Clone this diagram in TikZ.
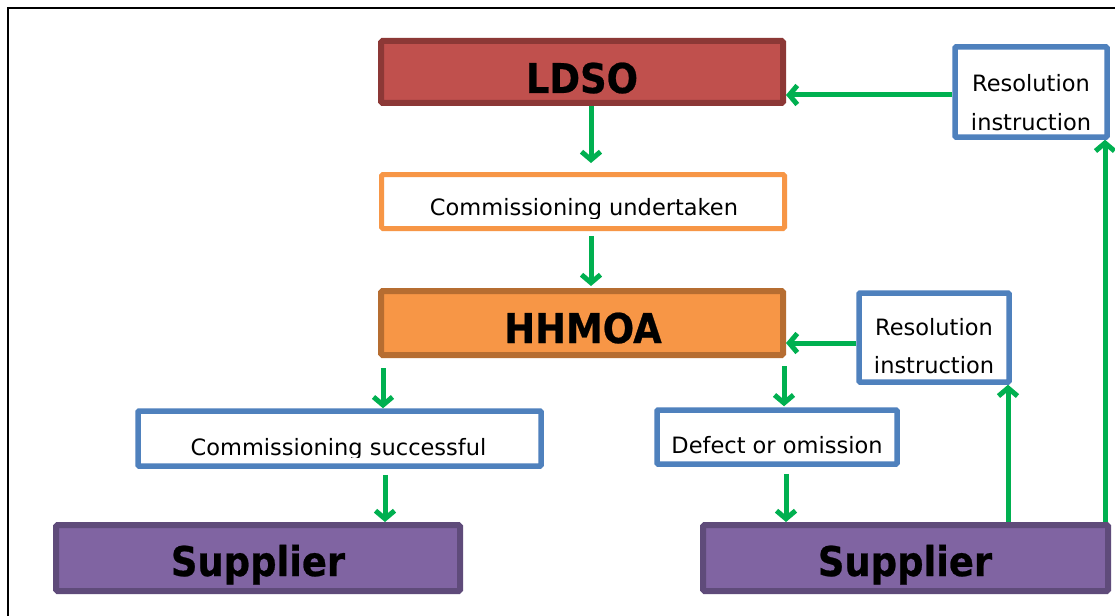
\documentclass[tikz,border=0pt]{standalone}
\usepackage{fontspec}
\setmainfont{DejaVu Sans}
\newfontfamily\heavyfont[FakeStretch=0.9,FakeBold=0.6]{DejaVu Sans Bold}
\usetikzlibrary{arrows.meta}
\definecolor{ldsofill}{HTML}{C0504D}
\definecolor{ldsoline}{HTML}{8C3836}
\definecolor{orfill}{HTML}{F79646}
\definecolor{orline}{HTML}{B66D31}
\definecolor{supfill}{HTML}{8064A2}
\definecolor{supline}{HTML}{5F4B7A}
\definecolor{boxblue}{HTML}{4F81BD}
\definecolor{flowgreen}{HTML}{00B050}
\begin{document}
\begin{tikzpicture}[x=1pt,y=-1pt,
  bigbox/.style={draw, line width=6pt, rounded corners=1.5pt, inner sep=0pt},
  smallbox/.style={draw=boxblue, fill=white, line width=5.5pt, rounded corners=1pt, inner sep=0pt},
  flow/.style={draw=flowgreen, line width=5pt, -{Straight Barb[length=8pt,width=19pt]}},
  bigtext/.style={font=\fontsize{41}{43}\heavyfont, anchor=base, inner sep=0pt},
  smalltext/.style={font=\fontsize{22.5}{24}\selectfont, anchor=base, inner sep=0pt}]
\useasboundingbox (0,0) rectangle (1115,615);
\fill[white] (0,0) rectangle (1115,615);
\draw[line width=2pt] (8,616) -- (8,8) -- (1116,8);

% boxes
\node[bigbox, draw=ldsoline, fill=ldsofill, minimum width=402pt, minimum height=62pt] (LDSO) at (582,72) {};
\node[bigbox, draw=orfill, fill=white, line width=5pt, minimum width=403pt, minimum height=54pt] (CU) at (583,201.5) {};
\node[bigbox, draw=orline, fill=orfill, minimum width=402pt, minimum height=64pt] (HHMOA) at (582,323) {};
\node[smallbox, minimum width=152pt, minimum height=90pt] (ResTop) at (1031,92) {};
\node[smallbox, minimum width=150pt, minimum height=89pt] (ResMid) at (934,337.5) {};
\node[smallbox, minimum width=403pt, minimum height=55pt] (CS) at (339.5,438.5) {};
\node[smallbox, minimum width=240pt, minimum height=54pt] (DEF) at (777,437) {};
\node[bigbox, draw=supline, fill=supfill, minimum width=404pt, minimum height=66pt] (SupL) at (258,558) {};
\node[bigbox, draw=supline, fill=supfill, minimum width=405pt, minimum height=66pt] (SupR) at (905.5,558) {};

% texts
\node[bigtext] (LDSOt) at (582,93) {LDSO};
\node[bigtext] (HHMOAt) at (583,343) {HHMOA};
\node[bigtext] (SupLt) at (258,576) {Supplier};
\node[bigtext] (SupRt) at (905,576) {Supplier};
\begin{scope}
\clip (379,172) rectangle (787,218);
\node[smalltext] (CUt) at (584,215) {Commissioning undertaken};
\end{scope}
\begin{scope}
\clip (135,408) rectangle (544,457.5);
\node[smalltext] (CSt) at (338.5,455) {Commissioning successful};
\end{scope}
\node[smalltext] (DEFt) at (777,453) {Defect or omission};
\node[smalltext] (ResTopA) at (1031,92) {Resolution};
\node[smalltext] (ResTopB) at (1031,130) {instruction};
\node[smalltext] (ResMidA) at (934,335) {Resolution};
\node[smalltext] (ResMidB) at (934,373) {instruction};

% connectors
\draw[flow] ([yshift=-3pt]ResTop.west) -- ([yshift=-3pt]ResTop.west -| LDSO.east);
\draw[flow, shorten >=9pt] ([xshift=9pt]LDSO.south) -- ([xshift=9pt]LDSO.south |- CU.north);
\draw[flow, shorten <=5pt, shorten >=2pt] ([xshift=8pt]CU.south) -- ([xshift=8pt]CU.south |- HHMOA.north);
\draw[flow] ([yshift=-5.5pt]ResMid.west) -- ([yshift=-5.5pt]ResMid.west -| HHMOA.east);
\draw[flow, shorten <=8pt, shorten >=1pt] ([xshift=202pt]HHMOA.south) -- ([xshift=202pt]HHMOA.south |- DEF.north);
\draw[flow, shorten <=10pt] ([xshift=-199pt]HHMOA.south) -- ([xshift=-199pt]HHMOA.south |- CS.north);
\draw[flow, shorten <=6pt] ([xshift=45.5pt]CS.south) -- ([xshift=45.5pt]CS.south |- SupL.north);
\draw[flow, shorten <=7pt] ([xshift=9pt]DEF.south) -- ([xshift=9pt]DEF.south |- SupR.north);
\draw[flow] ([xshift=102.5pt]SupR.north) -- ([xshift=102.5pt]SupR.north |- ResMid.south);
\draw[flow] ([xshift=199.5pt]SupR.north) -- ([xshift=199.5pt]SupR.north |- ResTop.south);
\end{tikzpicture}
\end{document}
